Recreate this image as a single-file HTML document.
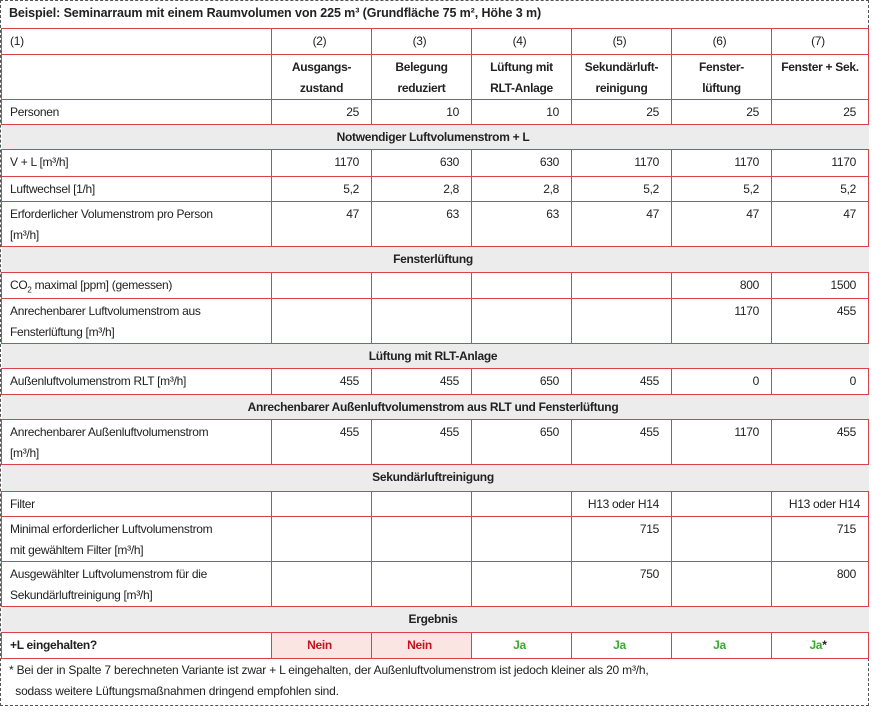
<!DOCTYPE html>
<html><head><meta charset="utf-8"><style>
html,body{margin:0;padding:0;background:#fff;}
body{width:872px;height:719px;position:relative;overflow:hidden;font-family:"Liberation Sans",sans-serif;font-size:12px;letter-spacing:-0.3px;color:#222;}
.frame{position:absolute;left:0;top:0;width:867px;height:704px;border:1px dashed #555;}
.title{position:absolute;left:9px;top:6px;font-weight:bold;font-size:12.5px;letter-spacing:-0.1px;}
table{position:absolute;left:1px;top:28px;width:867px;border-collapse:collapse;table-layout:fixed;}
td{border:1px solid #d8434b;padding:2px 12px 0 8px;line-height:21px;vertical-align:top;white-space:nowrap;overflow:hidden;}
td.n{text-align:right;}
td.c{text-align:center;}
tr.s td{background:#ececec;text-align:center;font-weight:bold;border-left:none;border-right:none;}
tr.h td{font-weight:bold;text-align:center;padding:2px 2px 0;}
sub{font-size:8px;line-height:0;}
.red{color:#c8101e;font-weight:bold;background:#fae5e3;text-align:center;}
.grn{color:#3aa935;font-weight:bold;text-align:center;}
.foot{position:absolute;left:9px;top:660px;line-height:21px;font-size:12px;letter-spacing:-0.2px;}
</style></head><body>
<div class="frame"></div>
<div class="title">Beispiel: Seminarraum mit einem Raumvolumen von 225 m³ (Grundfläche 75 m², Höhe 3 m)</div>
<table>
<colgroup><col style="width:270px"><col style="width:100px"><col style="width:100px"><col style="width:100px"><col style="width:100px"><col style="width:100px"><col style="width:97px"></colgroup>
<tr style="height:26px"><td>(1)</td><td class="c">(2)</td><td class="c">(3)</td><td class="c">(4)</td><td class="c">(5)</td><td class="c">(6)</td><td class="c">(7)</td></tr>
<tr class="h" style="height:45px"><td></td><td>Ausgangs-<br>zustand</td><td>Belegung<br>reduziert</td><td>Lüftung mit<br>RLT-Anlage</td><td>Sekundärluft-<br>reinigung</td><td>Fenster-<br>lüftung</td><td>Fenster + Sek.</td></tr>
<tr style="height:25px"><td>Personen</td><td class="n">25</td><td class="n">10</td><td class="n">10</td><td class="n">25</td><td class="n">25</td><td class="n">25</td></tr>
<tr class="s" style="height:25px"><td colspan="7">Notwendiger Luftvolumenstrom + L</td></tr>
<tr style="height:27px"><td>V + L [m³/h]</td><td class="n">1170</td><td class="n">630</td><td class="n">630</td><td class="n">1170</td><td class="n">1170</td><td class="n">1170</td></tr>
<tr style="height:25px"><td>Luftwechsel [1/h]</td><td class="n">5,2</td><td class="n">2,8</td><td class="n">2,8</td><td class="n">5,2</td><td class="n">5,2</td><td class="n">5,2</td></tr>
<tr style="height:45px"><td>Erforderlicher Volumenstrom pro Person<br>[m³/h]</td><td class="n">47</td><td class="n">63</td><td class="n">63</td><td class="n">47</td><td class="n">47</td><td class="n">47</td></tr>
<tr class="s" style="height:26px"><td colspan="7">Fensterlüftung</td></tr>
<tr style="height:26px"><td>CO<sub>2</sub> maximal [ppm] (gemessen)</td><td></td><td></td><td></td><td></td><td class="n">800</td><td class="n">1500</td></tr>
<tr style="height:45px"><td>Anrechenbarer Luftvolumenstrom aus<br>Fensterlüftung [m³/h]</td><td></td><td></td><td></td><td></td><td class="n">1170</td><td class="n">455</td></tr>
<tr class="s" style="height:25px"><td colspan="7">Lüftung mit RLT-Anlage</td></tr>
<tr style="height:26px"><td>Außenluftvolumenstrom RLT [m³/h]</td><td class="n">455</td><td class="n">455</td><td class="n">650</td><td class="n">455</td><td class="n">0</td><td class="n">0</td></tr>
<tr class="s" style="height:25px"><td colspan="7">Anrechenbarer Außenluftvolumenstrom aus RLT und Fensterlüftung</td></tr>
<tr style="height:45px"><td>Anrechenbarer Außenluftvolumenstrom<br>[m³/h]</td><td class="n">455</td><td class="n">455</td><td class="n">650</td><td class="n">455</td><td class="n">1170</td><td class="n">455</td></tr>
<tr class="s" style="height:27px"><td colspan="7">Sekundärluftreinigung</td></tr>
<tr style="height:25px"><td>Filter</td><td></td><td></td><td></td><td class="n">H13 oder H14</td><td></td><td class="n" style="padding-right:8px">H13 oder H14</td></tr>
<tr style="height:45px"><td>Minimal erforderlicher Luftvolumenstrom<br>mit gewähltem Filter [m³/h]</td><td></td><td></td><td></td><td class="n">715</td><td></td><td class="n">715</td></tr>
<tr style="height:45px"><td>Ausgewählter Luftvolumenstrom für die<br>Sekundärluftreinigung [m³/h]</td><td></td><td></td><td></td><td class="n">750</td><td></td><td class="n">800</td></tr>
<tr class="s" style="height:26px"><td colspan="7">Ergebnis</td></tr>
<tr style="height:26px"><td style="font-weight:bold">+L eingehalten?</td><td class="red">Nein</td><td class="red">Nein</td><td class="grn">Ja</td><td class="grn">Ja</td><td class="grn">Ja</td><td class="grn">Ja<span style="color:#222">*</span></td></tr>
</table>
<div class="foot">* Bei der in Spalte 7 berechneten Variante ist zwar + L eingehalten, der Außenluftvolumenstrom ist jedoch kleiner als 20 m³/h,<br>&nbsp;&nbsp;sodass weitere Lüftungsmaßnahmen dringend empfohlen sind.</div>
</body></html>
